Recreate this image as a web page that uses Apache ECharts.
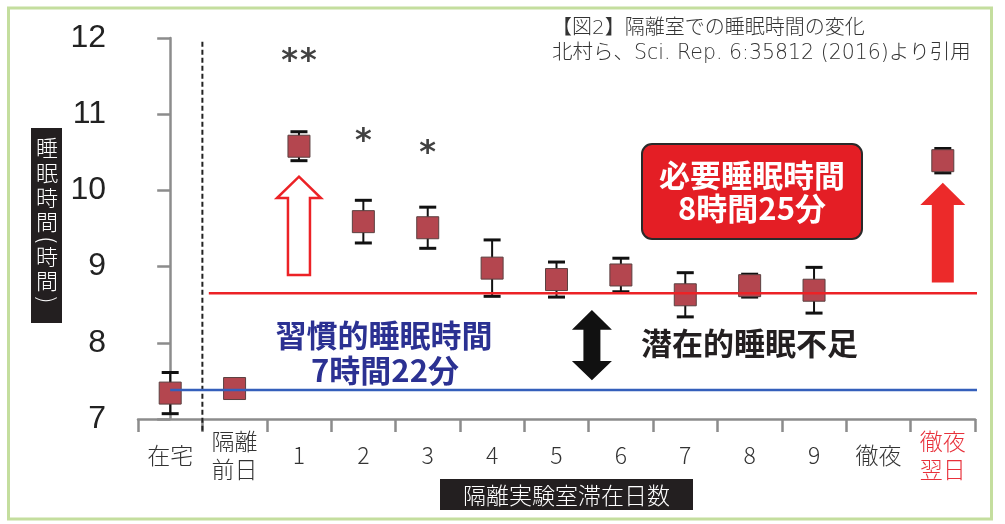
<!DOCTYPE html>
<html><head><meta charset="utf-8">
<script src="https://cdn.jsdelivr.net/npm/echarts@6/dist/echarts.min.js"></script>
<style>html,body{margin:0;padding:0;background:#fff}#c{width:1005px;height:524px}</style>
</head><body><div id="c"></div>
<script>
// ---- data ----
const categories = ['在宅', '隔離\n前日', '1', '2', '3', '4', '5', '6', '7', '8', '9', '徹夜', '徹夜\n翌日'];
const yTicks = [7, 8, 9, 10, 11, 12];
const meanHours = [7.34, 7.40, 10.58, 9.59, 9.51, 8.98, 8.83, 8.89, 8.63, 8.75, 8.69, null, 10.39];
const errHours  = [0.27, 0.10, 0.19, 0.28, 0.27, 0.37, 0.23, 0.22, 0.29, 0.15, 0.30, null, 0.16];
const sigMarks  = ['', '', '**', '*', '*', '', '', '', '', '', '', '', ''];
const sigLevels = [null, null, 11.80, 10.75, 10.59, null, null, null, null, null, null, null, null];
const habitualSleep = 7.38;   // 習慣的睡眠時間 line
const requiredSleep = 8.65;   // 必要睡眠時間 line
// annotation arrows: [x position (category units), tip, head base, tail]
const upArrows = [[2, 10.18, 9.90, 8.89, 0], [12, 10.10, 9.81, 8.79, 1]];
const gapArrow = [[6.55, 8.43, 8.17, 7.76, 7.51]];
const yAxisName = '睡眠時間(時間)';
const xAxisName = '隔離実験室滞在日数';
const titleLines = ['【図2】隔離室での睡眠時間の変化', '北村ら、Sci. Rep. 6:35812 (2016)より引用'];
const requiredLines = ['必要睡眠時間', '8時間25分'];
const habitualLines = ['習慣的睡眠時間', '7時間22分'];
const gapLabel = '潜在的睡眠不足';

const CJK = '"Noto Sans CJK JP", "Noto Sans", sans-serif';
const chart = echarts.init(document.getElementById('c'), null, {renderer: 'canvas'});

const errData = [];
meanHours.forEach((m, i) => { if (m !== null) errData.push([i, m, errHours[i]]); });
const sigData = [];
sigMarks.forEach((s, i) => { if (s) sigData.push([i, sigLevels[i], s]); });

// vertical y-axis name: one text element per character (layout)
const nameYs = [148, 173, 198, 222, 240, 257, 281, 300];
const nameChars = Array.from(yAxisName).map((ch, k) => {
  const paren = ch === '(' || ch === ')';
  return {type: 'text', x: 47, y: nameYs[k], rotation: paren ? -Math.PI / 2 : 0,
    style: {text: ch, fontSize: 22, fontFamily: CJK, fontWeight: 300, fill: '#fff', align: 'center', verticalAlign: 'middle'}};
});
const boldText = (txt, x, y, fill) => ({type: 'text', x, y, style: {text: txt, fontSize: 31, fontWeight: 'bold',
  fontFamily: CJK, fill, align: 'center', verticalAlign: 'middle'}});

const option = {
  animation: false,
  backgroundColor: '#fff',
  grid: {left: 138, right: 30, top: 38, bottom: 105},
  xAxis: [{
    type: 'category', data: categories, boundaryGap: true,
    axisLine: {lineStyle: {color: '#8c8c8c', width: 2.5}},
    axisTick: {show: true, interval: 0, length: 13, lineStyle: {color: '#8c8c8c', width: 2.5}},
    axisLabel: {
      interval: 0, margin: 36, verticalAlign: 'middle', fontSize: 23, lineHeight: 28,
      fontFamily: CJK, fontWeight: 300,
      color: (v, i) => i === categories.length - 1 ? '#e8303a' : '#333'
    },
    splitLine: {show: false}
  }, {
    type: 'value', min: -0.5, max: categories.length - 0.5, show: false
  }],
  yAxis: {
    type: 'value', min: yTicks[0], max: yTicks[yTicks.length - 1], interval: 1,
    axisLine: {show: true, lineStyle: {color: '#8c8c8c', width: 2.5}},
    axisTick: {show: true, length: 13, lineStyle: {color: '#8c8c8c', width: 2.5}},
    axisLabel: {margin: 32, fontSize: 32, color: '#222', fontFamily: '"Liberation Sans", sans-serif'},
    splitLine: {show: false}
  },
  series: [
    {
      type: 'custom', name: 'sleep', xAxisIndex: 0, z: 3, data: errData,
      renderItem(params, api) {
        const i = api.value(0), m = api.value(1), e = api.value(2);
        const c = api.coord([i, m]), t = api.coord([i, m + e]), b = api.coord([i, m - e]);
        const h = 11, cap = 8.5;
        return {type: 'group', children: [
          {type: 'line', shape: {x1: c[0], y1: t[1], x2: c[0], y2: b[1]}, style: {stroke: '#111', lineWidth: 2}},
          {type: 'line', shape: {x1: c[0] - cap, y1: t[1], x2: c[0] + cap, y2: t[1]}, style: {stroke: '#111', lineWidth: 3}},
          {type: 'line', shape: {x1: c[0] - cap, y1: b[1], x2: c[0] + cap, y2: b[1]}, style: {stroke: '#111', lineWidth: 3}},
          {type: 'rect', shape: {x: c[0] - h, y: c[1] - h, width: 2 * h, height: 2 * h}, style: {fill: '#b4464f', stroke: '#5a4040', lineWidth: 1}}
        ]};
      }
    },
    {
      type: 'line', name: 'required', xAxisIndex: 1, z: 5, clip: false, symbol: 'none',
      data: [[0.6, requiredSleep], [12.58, requiredSleep]],
      lineStyle: {color: '#ec2226', width: 2.5}
    },
    {
      type: 'line', name: 'habitual', xAxisIndex: 1, z: 5, clip: false, symbol: 'none',
      data: [[0, habitualSleep], [12.58, habitualSleep]],
      lineStyle: {color: '#345fbb', width: 2.5}
    },
    {
      type: 'line', name: 'divider', xAxisIndex: 1, z: 2, clip: false, symbol: 'none',
      data: [[0.5, 11.95], [0.5, 6.82]],
      lineStyle: {color: '#222', width: 2, type: [5, 3]}
    },
    {
      type: 'custom', name: 'upArrows', xAxisIndex: 1, z: 4, clip: false, data: upArrows,
      renderItem(params, api) {
        const x = api.value(0);
        const tip = api.coord([x, api.value(1)]), base = api.coord([x, api.value(2)]), tail = api.coord([x, api.value(3)]);
        const solid = api.value(4) === 1;
        const hw = solid ? 22.5 : 22, sw = 11, cx = tip[0];
        const pts = [[cx, tip[1]], [cx + hw, base[1]], [cx + sw, base[1]], [cx + sw, tail[1]],
                     [cx - sw, tail[1]], [cx - sw, base[1]], [cx - hw, base[1]]];
        return {type: 'polygon', shape: {points: pts},
          style: solid ? {fill: '#ec2a2a'} : {fill: '#fff', stroke: '#ec2226', lineWidth: 2.5}};
      }
    },
    {
      type: 'custom', name: 'gapArrow', xAxisIndex: 1, z: 4, clip: false, data: gapArrow,
      renderItem(params, api) {
        const x = api.value(0);
        const p = [1, 2, 3, 4].map(k => api.coord([x, api.value(k)])[1]);
        const cx = api.coord([x, api.value(1)])[0];
        const hw = 20, sw = 8.5;
        const pts = [[cx, p[0]], [cx + hw, p[1]], [cx + sw, p[1]], [cx + sw, p[2]], [cx + hw, p[2]],
                     [cx, p[3]], [cx - hw, p[2]], [cx - sw, p[2]], [cx - sw, p[1]], [cx - hw, p[1]]];
        return {type: 'polygon', shape: {points: pts}, style: {fill: '#111'}};
      }
    },
    {
      type: 'scatter', name: 'sig', xAxisIndex: 0, z: 6, symbolSize: 0, data: sigData,
      label: {
        show: true, position: 'inside', offset: [0, 8],
        formatter: p => p.value[2] === '**' ? '{s|*}{t|*}' : '{s|*}',
        rich: {
          s: {fontSize: 32, fontWeight: 'bold', color: '#111', fontFamily: '"DejaVu Sans", sans-serif'},
          t: {fontSize: 32, fontWeight: 'bold', color: '#111', fontFamily: '"DejaVu Sans", sans-serif', padding: [0, 0, 0, 2]}
        }
      }
    }
  ],
  graphic: [
    {type: 'rect', shape: {x: 8.5, y: 8, width: 983, height: 511}, style: {fill: 'none', stroke: '#c4de9e', lineWidth: 3}, z: 0},
    {type: 'text', x: 552, y: 28.5, style: {text: titleLines[0], fontSize: 20, fontFamily: '"DejaVu Sans", ' + CJK,
      fontWeight: 300, fill: '#333', align: 'left', verticalAlign: 'middle'}},
    {type: 'text', x: 552, y: 53.5, style: {text: titleLines[1], fontSize: 20.5, fontFamily: '"DejaVu Sans", ' + CJK,
      fontWeight: 300, fill: '#333', align: 'left', verticalAlign: 'middle'}},
    // y-axis name box
    {type: 'rect', shape: {x: 31, y: 128, width: 31, height: 195}, style: {fill: '#231f20'}},
    ...nameChars,
    // x-axis name
    {type: 'rect', shape: {x: 440, y: 479, width: 253, height: 31}, style: {fill: '#231f20'}},
    {type: 'text', x: 566.5, y: 495, style: {text: xAxisName, fontSize: 23, fontFamily: CJK, fontWeight: 300,
      fill: '#fff', align: 'center', verticalAlign: 'middle'}},
    // required sleep box
    {type: 'rect', shape: {x: 642, y: 144, width: 220, height: 95, r: 10}, style: {fill: '#e41e25', stroke: '#2a2a2a', lineWidth: 2}},
    boldText(requiredLines[0], 752, 175.5, '#fff'),
    boldText(requiredLines[1], 752, 208.5, '#fff'),
    boldText(gapLabel, 749.5, 343, '#231f20'),
    boldText(habitualLines[0], 384, 335, '#2b3192'),
    boldText(habitualLines[1], 385, 370, '#2b3192')
  ]
};
chart.setOption(option);
</script>
</body></html>
